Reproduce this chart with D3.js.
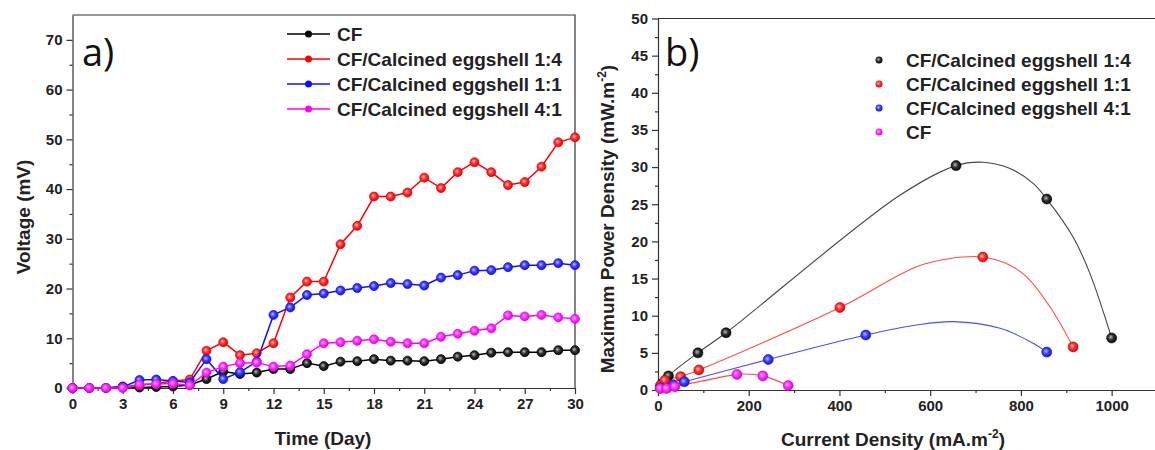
<!DOCTYPE html>
<html>
<head>
<meta charset="utf-8">
<script src="https://cdn.jsdelivr.net/npm/d3@7"></script>
<style>
  body { margin: 0; background: #fff; }
  svg { display: block; font-family: "Liberation Sans", Arial, sans-serif; }
  .tick text { font-weight: bold; font-size: 15px; fill: #222; }
  .axis path, .axis line { stroke: #333; stroke-width: 1.2; }
  .title { font-weight: bold; font-size: 19px; fill: #222; }
  .legend { font-weight: bold; font-size: 19px; fill: #222; }
  .panel { font-family: "Open Sans", "Liberation Sans", sans-serif; font-size: 38px; fill: #111; }
</style>
</head>
<body>
<div id="chart"></div>
<script>

// panel a) data : voltage per day
var days = d3.range(0, 31);
var cfVolt = [0, 0, 0, 0.3, 0.1, 0.2, 0.3, 0.6, 1.8, 3.3, 2.8, 3.1, 3.8, 3.8, 5.0, 4.4, 5.3, 5.4, 5.8, 5.5, 5.5, 5.4, 5.8, 6.3, 6.6, 7.1, 7.2, 7.2, 7.2, 7.6, 7.6];
var egg14Volt = [0, 0, 0, 0.2, 0.6, 0.9, 1.4, 1.7, 7.5, 9.2, 6.6, 7.0, 9.0, 18.2, 21.4, 21.4, 28.9, 32.6, 38.5, 38.5, 39.3, 42.3, 40.2, 43.4, 45.4, 43.4, 40.8, 41.4, 44.5, 49.4, 50.4];
var egg11Volt = [0, 0, 0, 0.2, 1.6, 1.7, 1.4, 1.1, 5.8, 1.8, 3.2, 5.3, 14.7, 16.2, 18.7, 19.0, 19.6, 20.1, 20.5, 21.1, 20.9, 20.6, 22.2, 22.7, 23.6, 23.7, 24.3, 24.7, 24.7, 25.1, 24.7];
var egg41Volt = [0, 0, 0, 0, 0.7, 0.8, 0.9, 0.5, 3.1, 4.3, 5.0, 5.1, 4.3, 4.5, 6.8, 9.0, 9.2, 9.5, 9.8, 9.3, 9.0, 9.0, 10.3, 10.9, 11.5, 12.0, 14.6, 14.4, 14.7, 14.2, 13.9];
var seriesA = [
  { name: "CF", color: "#000000", values: cfVolt },
  { name: "CF/Calcined eggshell 1:4", color: "#ff0000", values: egg14Volt },
  { name: "CF/Calcined eggshell 1:1", color: "#1010ff", values: egg11Volt },
  { name: "CF/Calcined eggshell 4:1", color: "#ff00ff", values: egg41Volt }
];
var xTicksA = d3.range(0, 31, 3);
var yTicksA = d3.range(0, 71, 10);

// panel b) data : power density vs current density (measured points)
var b14Current = [8, 23, 88, 150, 657, 857, 1000];
var b14Power = [0.8, 1.9, 5.0, 7.7, 30.2, 25.7, 7.0];
var b11Current = [5, 15, 50, 90, 401, 716, 915];
var b11Power = [0.6, 1.3, 1.8, 2.7, 11.1, 17.9, 5.8];
var b41Current = [5, 34, 58, 243, 458, 857];
var b41Power = [0.3, 0.7, 1.1, 4.1, 7.4, 5.1];
var bCfCurrent = [5, 19, 37, 174, 231, 287];
var bCfPower = [0.2, 0.2, 0.45, 2.1, 1.9, 0.6];

// fitted curves
var b14FitCurrent = [8, 23, 88, 150, 533, 657, 717, 776, 827, 857, 915, 952, 1000];
var b14FitPower = [0.8, 1.9, 5.0, 7.7, 26.2, 30.2, 30.65, 29.8, 27.8, 25.7, 20.6, 15.7, 7.0];
var b11FitCurrent = [5, 15, 50, 90, 401, 570, 644, 716, 776, 812, 864, 915];
var b11FitPower = [0.6, 1.3, 1.8, 2.7, 11.1, 16.6, 17.7, 17.9, 16.8, 15.25, 11.2, 5.8];
var b41FitCurrent = [5, 34, 58, 243, 458, 570, 651, 754, 827, 857];
var b41FitPower = [0.3, 0.7, 1.1, 4.1, 7.4, 8.75, 9.2, 8.3, 6.3, 5.1];
var bCfFitCurrent = [5, 19, 37, 174, 190, 231, 287];
var bCfFitPower = [0.2, 0.2, 0.45, 2.1, 2.15, 1.9, 0.6];

var seriesB = [
  { name: "CF/Calcined eggshell 1:4", color: "#000000", line: "#444444", x: b14Current, y: b14Power, fx: b14FitCurrent, fy: b14FitPower },
  { name: "CF/Calcined eggshell 1:1", color: "#ff0000", line: "#ff4a4a", x: b11Current, y: b11Power, fx: b11FitCurrent, fy: b11FitPower },
  { name: "CF/Calcined eggshell 4:1", color: "#1010ff", line: "#4a4aff", x: b41Current, y: b41Power, fx: b41FitCurrent, fy: b41FitPower },
  { name: "CF", color: "#ff00ff", line: "#ff4a4a", x: bCfCurrent, y: bCfPower, fx: bCfFitCurrent, fy: bCfFitPower }
];
var xTicksB = d3.range(0, 1001, 200);
var yTicksB = d3.range(0, 51, 5);

var svg = d3.select("#chart").append("svg")
  .attr("width", 1155)
  .attr("height", 450);

// shaded ball markers
var ballColors = ["#000000", "#ff0000", "#1010ff", "#ff00ff"];
var defs = svg.append("defs");
ballColors.forEach(function(c, i) {
  var g = defs.append("radialGradient")
    .attr("id", "ball" + i)
    .attr("cx", "0.45").attr("cy", "0.45").attr("r", "0.6")
    .attr("fx", "0.4").attr("fy", "0.4");
  g.append("stop").attr("offset", "0%").attr("stop-color", d3.interpolateRgb(c, "#fff")(0.75));
  g.append("stop").attr("offset", "45%").attr("stop-color", d3.interpolateRgb(c, "#fff")(0.2));
  g.append("stop").attr("offset", "100%").attr("stop-color", d3.interpolateRgb(c, "#000")(0.2));
});
function ballId(color) {
  return "url(#ball" + ballColors.indexOf(color) + ")";
}

function drawAxes(g, x, y, xMajor, xMinor, yMajor, yMinor, bottom, left) {
  g.append("g").attr("class", "axis")
    .attr("transform", `translate(0, ${bottom})`)
    .call(d3.axisBottom(x).tickValues(xMinor).tickSize(3).tickFormat(""))
    .select(".domain").remove();
  g.append("g").attr("class", "axis")
    .attr("transform", `translate(0, ${bottom})`)
    .call(d3.axisBottom(x).tickValues(xMajor).tickFormat(d3.format("d"))
      .tickSizeInner(6).tickSizeOuter(0).tickPadding(4));
  g.append("g").attr("class", "axis")
    .attr("transform", `translate(${left}, 0)`)
    .call(d3.axisLeft(y).tickValues(yMinor).tickSize(3).tickFormat(""))
    .select(".domain").remove();
  g.append("g").attr("class", "axis")
    .attr("transform", `translate(${left}, 0)`)
    .call(d3.axisLeft(y).tickValues(yMajor).tickFormat(d3.format("d"))
      .tickSizeInner(6).tickSizeOuter(0).tickPadding(4));
}

// ---------- panel a ----------
var xA = d3.scaleLinear().domain([0, 30]).range([72.5, 575]);
var yA = d3.scaleLinear().domain([0, 75]).range([388, 15]);
var gA = svg.append("g");

drawAxes(gA, xA, yA, xTicksA, d3.range(1.5, 30, 3), yTicksA, d3.range(5, 75, 10), 388, 72.5);

gA.append("path")
  .attr("d", `M${xA(0)},${yA(75)}H${xA(30)}V${yA(0)}`)
  .attr("fill", "none").attr("stroke", "#333").attr("stroke-width", 1.2);

var lineA = d3.line().x((d, i) => xA(days[i])).y(d => yA(d));

seriesA.forEach(function(s) {
  gA.append("path")
    .datum(s.values)
    .attr("d", lineA)
    .attr("fill", "none")
    .attr("stroke", s.color)
    .attr("stroke-width", 1.5);
  gA.selectAll(null)
    .data(s.values)
    .enter().append("circle")
    .attr("cx", (d, i) => xA(days[i]))
    .attr("cy", d => yA(d))
    .attr("r", 4.5)
    .attr("fill", ballId(s.color))
    .attr("stroke", s.color)
    .attr("stroke-width", 0.8);
});

gA.append("text").attr("class", "panel").attr("x", 82).attr("y", 66).text("a)");

var legA = gA.selectAll(".legA")
  .data(seriesA)
  .enter().append("g")
  .attr("transform", (d, i) => `translate(287, ${34 + i * 25})`);
legA.append("line").attr("x1", 0).attr("x2", 43)
  .attr("stroke", d => d.color).attr("stroke-width", 1.5);
legA.append("circle").attr("cx", 21.5).attr("r", 3.5).attr("fill", d => d.color);
legA.append("text").attr("class", "legend").attr("x", 50).attr("dy", "0.36em").text(d => d.name);

gA.append("text").attr("class", "title")
  .attr("text-anchor", "middle")
  .attr("transform", "translate(30, 217) rotate(-90)")
  .text("Voltage (mV)");
gA.append("text").attr("class", "title")
  .attr("text-anchor", "middle")
  .attr("x", 323).attr("y", 445)
  .text("Time (Day)");

// ---------- panel b ----------
var xB = d3.scaleLinear().domain([0, 1100]).range([658, 1157]);
var yB = d3.scaleLinear().domain([0, 50]).range([390, 18.5]);
var gB = svg.append("g");

drawAxes(gB, xB, yB, xTicksB, d3.range(100, 1100, 200), yTicksB, d3.range(2.5, 50, 5), 390, 658);

gB.append("line")
  .attr("x1", xB(0)).attr("x2", 1155)
  .attr("y1", yB(50)).attr("y2", yB(50))
  .attr("stroke", "#333").attr("stroke-width", 1.2);

var lineB = d3.line().curve(d3.curveCatmullRom.alpha(0.5)).x(d => xB(d[0])).y(d => yB(d[1]));

seriesB.forEach(function(s) {
  gB.append("path")
    .datum(s.fx.map((v, i) => [v, s.fy[i]]))
    .attr("d", lineB)
    .attr("fill", "none")
    .attr("stroke", s.line)
    .attr("stroke-width", 1.1);
});
seriesB.forEach(function(s) {
  gB.selectAll(null)
    .data(s.x.map((v, i) => [v, s.y[i]]))
    .enter().append("circle")
    .attr("cx", d => xB(d[0]))
    .attr("cy", d => yB(d[1]))
    .attr("r", 5)
    .attr("fill", ballId(s.color))
    .attr("stroke", d3.interpolateRgb(s.color, "#000")(0.2))
    .attr("stroke-width", 0.6);
});

gB.append("text").attr("class", "panel").attr("x", 665).attr("y", 66).text("b)");

var legB = gB.selectAll(".legB")
  .data(seriesB)
  .enter().append("g")
  .attr("transform", (d, i) => `translate(879, ${60 + i * 24})`);
legB.append("circle").attr("r", 3.5).attr("fill", d => ballId(d.color));
legB.append("text").attr("class", "legend").attr("x", 27).attr("dy", "0.36em").text(d => d.name);

var yTitle = gB.append("text").attr("class", "title")
  .attr("text-anchor", "middle")
  .attr("transform", "translate(614, 219) rotate(-90)");
yTitle.append("tspan").text("Maximum Power Density (mW.m");
yTitle.append("tspan").attr("font-size", "12px").attr("dy", "-8").text("-2");
yTitle.append("tspan").attr("dy", "8").text(")");

var xTitle = gB.append("text").attr("class", "title")
  .attr("text-anchor", "middle")
  .attr("x", 893).attr("y", 446);
xTitle.append("tspan").text("Current Density (mA.m");
xTitle.append("tspan").attr("font-size", "12px").attr("dy", "-8").text("-2");
xTitle.append("tspan").attr("dy", "8").text(")");

</script>
</body>
</html>
